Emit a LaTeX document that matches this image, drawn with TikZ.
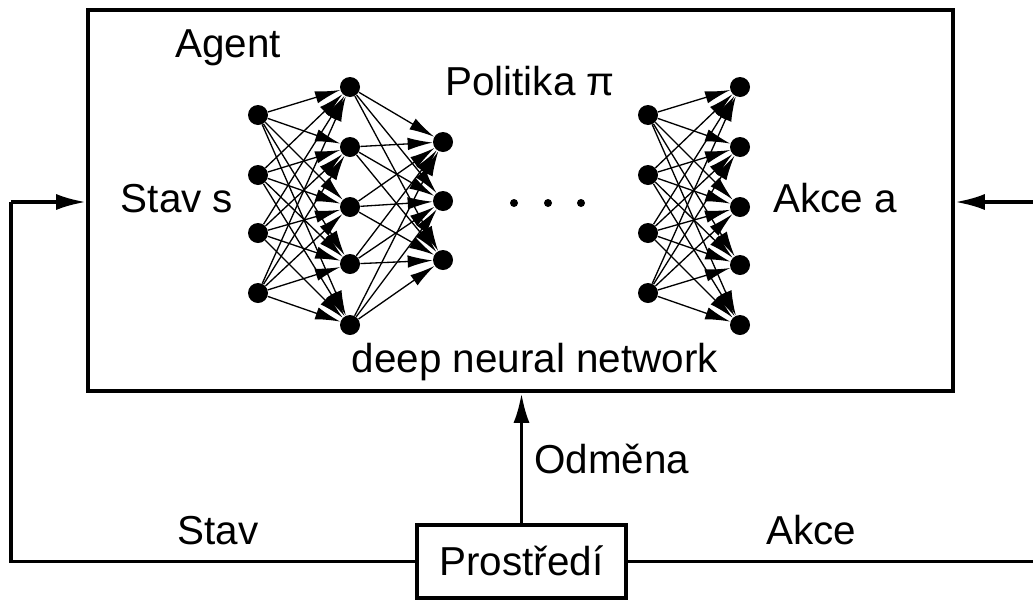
\documentclass[tikz,border=0pt]{standalone}
\usepackage{fontspec}
\setmainfont{Liberation Sans}
\usetikzlibrary{positioning, arrows.meta}
\tikzset{
  frame/.style={rectangle, draw=black, line width=0.075cm, inner sep=0pt},
  neuron/.style={circle, fill=black, inner sep=0pt, minimum size=0.4cm},
  synapse/.style={line width=0.75pt, -{Latex[length=0.5cm,width=0.25cm]}},
  link/.style={line width=0.075cm},
  arrow/.style={line width=0.075cm, -{Latex[length=0.6cm,width=0.32cm]}},
  txt/.style={anchor=base, inner sep=0pt}
}

\begin{document}
\begin{tikzpicture}[x=0.02cm, y=-0.02cm, every node/.style={font=\fontsize{23}{27}\selectfont}]
    \useasboundingbox (0,0) rectangle (1033,599);

    % Agent a prostredi
    \node (agent) [frame, minimum width=17.3cm, minimum height=7.62cm] at (520.5,200.5) {};
    \node (env) [frame, minimum width=4.18cm, minimum height=1.46cm] at (521.5,561.5) {};
    \node [txt] at (env.center |- 0,575) {Prostředí};

    % Vrstvy site vlevo
    \foreach \y [count=\i] in {115,175,233,293}
        \node (in\i) [neuron] at (258,\y) {};
    \foreach \y [count=\i] in {87,147,207,264,325}
        \node (hid\i) [neuron] at (350,\y) {};
    \foreach \y [count=\i] in {142,201,260}
        \node (out\i) [neuron] at (443,\y) {};

    % Vrstvy site vpravo
    \foreach \y [count=\i] in {115,175,233,293}
        \node (rin\i) [neuron] at (648,\y) {};
    \foreach \y [count=\i] in {87,147,207,265,325}
        \node (rout\i) [neuron] at (740,\y) {};

    % Spoje mezi neurony
    \foreach \a in {1,...,4}
        \foreach \b in {1,...,5} {
            \draw [synapse] (in\a) -- (hid\b);
            \draw [synapse] (rin\a) -- (rout\b);
        }
    \foreach \a in {1,...,5}
        \foreach \b in {1,...,3}
            \draw [synapse] (hid\a) -- (out\b);

    % Tecky mezi castmi site
    \foreach \x [count=\i] in {514,548,581}
        \node (dot\i) [circle, fill=black, inner sep=0pt, minimum size=0.16cm] at (\x,203) {};

    % Popisky
    \node [txt] at (228,57) {Agent};
    \node [txt] at (530,95) {Politika π};
    \node [txt] at (177,212) {Stav s};
    \node [txt] at (835,212) {Akce a};
    \node [txt] at (535,372) {deep neural network};
    \node [txt] at (218,544) {Stav};
    \node [txt] at (811,544) {Akce};

    % Smycka agent - prostredi
    \coordinate (lft) at (11,202);
    \coordinate (rgt) at (1045,202);
    \draw [arrow] (env.north) -- (env.north |- agent.south)
        node [txt, anchor=base west, pos=0.38, xshift=0.22cm] {Odměna};
    \draw [link] (env.west) -| (lft);
    \draw [arrow] (lft) -- (agent.west |- lft);
    \draw [link] (env.east) -| (rgt);
    \draw [arrow] (rgt) -- (agent.east |- rgt);
\end{tikzpicture}
\end{document}
